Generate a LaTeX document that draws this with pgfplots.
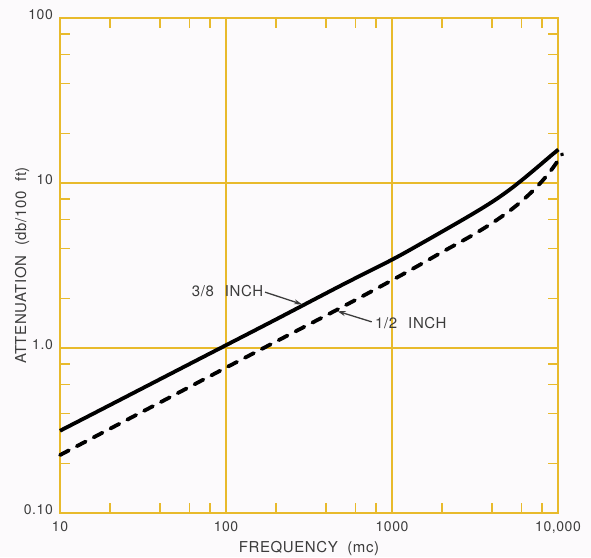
\documentclass[border=0pt]{standalone}
\usepackage{fontspec}
\setmainfont{TeX Gyre Heros}[LetterSpace=4]
\usepackage{pgfplots}
\pgfplotsset{compat=1.18}
\usetikzlibrary{arrows.meta}
\definecolor{gridyellow}{HTML}{E8BA2C}
\definecolor{inkgray}{HTML}{3C3C3C}
\definecolor{paper}{HTML}{FCFAFC}
\newcommand{\chartfont}{\fontsize{14}{16}\selectfont}
\newcommand{\labelfont}{\fontsize{15}{17}\selectfont}

\begin{document}
\begin{tikzpicture}
\path[fill=paper, use as bounding box] (-60pt,-44pt) rectangle (531pt,513pt);
\begin{axis}[
    at={(0pt,0pt)}, anchor=south west,
    scale only axis, width=498pt, height=495pt,
    xmode=log, ymode=log,
    xmin=10, xmax=10000, ymin=0.1, ymax=100,
    log basis x=10, log basis y=10,
    xtick={10,100,1000,10000},
    xticklabels={10,100,1000,{10,000}},
    ytick={0.1,1,10,100},
    yticklabels={0.10,1.0,10,100},
    minor xtick={20,40,60,80,200,400,600,800,2000,4000,6000,8000},
    minor ytick={0.2,0.4,0.6,0.8,2,4,6,8,20,40,60,80},
    xtick pos=both, ytick pos=both,
    xticklabel pos=lower, yticklabel pos=left,
    tick align=inside,
    major tick length=0pt,
    minor tick length=10pt,
    minor tick style={gridyellow, line width=1.3pt},
    xmajorgrids, ymajorgrids,
    major grid style={gridyellow, line width=1.1pt},
    axis line style={gridyellow, line width=2pt},
    tick label style={font=\chartfont, text=inkgray, inner sep=0pt},
    xticklabel style={anchor=north, yshift=-8.5pt},
    yticklabel style={anchor=east, xshift=-7pt, yshift=3pt},
    xlabel={FREQUENCY\ \ (mc)},
    ylabel={ATTENUATION\ \ (db/100\ \ ft)},
    label style={font=\labelfont, text=inkgray, inner sep=0pt},
    xlabel style={at={(axis description cs:0.5,0)}, anchor=north, yshift=-28pt},
    ylabel style={at={(axis description cs:0,0.5)}, anchor=south, yshift=30.5pt},
    clip=false,
]
% 3/8 inch cable
\addplot[black, line width=3.8pt, smooth, tension=0.6] coordinates {
    (10,0.315) (20,0.451) (50,0.726) (100,1.04) (200,1.49) (500,2.41)
    (1000,3.43) (1500,4.30) (2000,5.07) (3000,6.42) (4000,7.67) (5000,8.96)
    (6000,10.33) (7000,11.74) (8000,13.15) (9000,14.55) (10050,15.95)};
% 1/2 inch cable
\addplot[black, line width=3.8pt, smooth, tension=0.6, dash pattern=on 10pt off 9pt, line cap=round] coordinates {
    (10,0.2245) (20,0.324) (50,0.526) (100,0.76) (200,1.094) (500,1.77)
    (1000,2.575) (1500,3.23) (2000,3.81) (3000,4.78) (4000,5.71) (5000,6.67)
    (6000,7.72) (7000,8.90) (8000,10.24) (9000,11.8) (10000,13.67) (10600,14.96)};

\draw[inkgray, line width=1.3pt, -{Stealth[length=8pt, width=5pt]}] (axis cs:172,2.18) -- (axis cs:287,1.84);
\node[anchor=east, inner sep=0pt, font=\labelfont, text=inkgray] at (axis cs:168,2.2) {3/8\hspace{11pt}INCH};
\draw[inkgray, line width=1.3pt, -{Stealth[length=8pt, width=5pt]}] (axis cs:755,1.44) -- (axis cs:470,1.67);
\node[anchor=west, inner sep=0pt, font=\labelfont, text=inkgray] at (axis cs:790,1.42) {1/2\hspace{11pt}INCH};
\end{axis}
\end{tikzpicture}
\end{document}
